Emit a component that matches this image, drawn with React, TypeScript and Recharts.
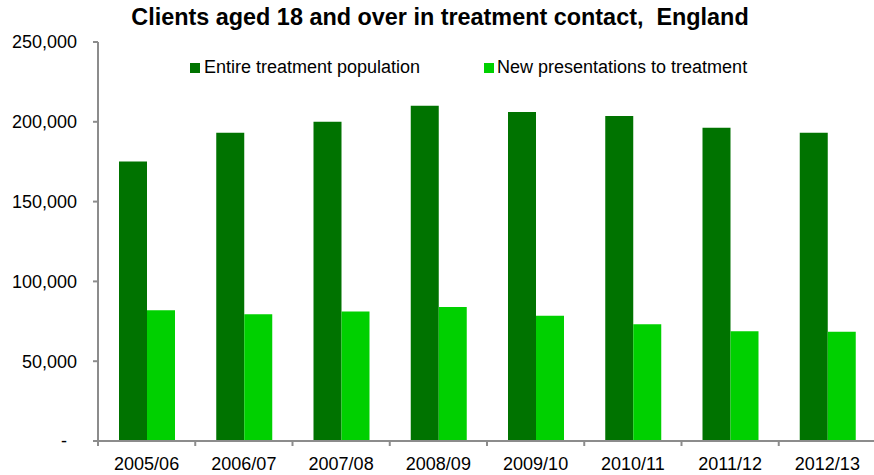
import { BarChart, Bar, XAxis, YAxis } from 'recharts';

const years = ['2005/06', '2006/07', '2007/08', '2008/09', '2009/10', '2010/11', '2011/12', '2012/13'];
const entirePopulation = [175200, 193100, 200000, 210000, 206100, 203700, 196300, 193100];
const newPresentations = [81900, 79400, 81200, 83900, 78500, 73100, 68700, 68400];
const yTicks = [0, 50000, 100000, 150000, 200000, 250000];
const seriesNames = ['Entire treatment population', 'New presentations to treatment'];
const seriesColors = ['#007300', '#00d000'];

const data = years.map((year, i) => ({
  year,
  entire: entirePopulation[i],
  fresh: newPresentations[i],
}));

const CHART_W = 880;
const LEFT = 98;
const RIGHT_MARGIN = 4;
const AXIS_COLOR = '#8c8c8c';
const FONT = '"Liberation Sans", Arial, sans-serif';

function formatY(v: number): string {
  if (v === 0) return '-\u00a0\u00a0';
  return v.toLocaleString('en-US');
}

interface TickProps {
  x?: number;
  y?: number;
  payload?: { value: string };
}

function CategoryTick({ x = 0, y = 0, payload }: TickProps) {
  const band = (CHART_W - LEFT - RIGHT_MARGIN) / years.length;
  const axisY = y - 16;
  return (
    <g>
      <line x1={x - band / 2} x2={x - band / 2} y1={axisY} y2={axisY + 5} stroke={AXIS_COLOR} strokeWidth={2} />
      <text x={x} y={y} dy="0.71em" textAnchor="middle" fontSize={18} fill="#000" fontFamily={FONT}>
        {payload?.value}
      </text>
    </g>
  );
}

export default function App() {
  return (
    <div
      style={{
        position: 'absolute',
        left: 0,
        top: 0,
        width: 874,
        height: 475,
        overflow: 'hidden',
        background: '#fff',
        fontFamily: FONT,
      }}
    >
      <div
        style={{
          position: 'absolute',
          top: 4,
          left: 0,
          width: 880,
          textAlign: 'center',
          fontWeight: 'bold',
          fontSize: 23.4,
          whiteSpace: 'pre',
        }}
      >
        {'Clients aged 18 and over in treatment contact,  England'}
      </div>
      <div style={{ position: 'absolute', top: 57, left: 190, fontSize: 18, display: 'flex', alignItems: 'center' }}>
        <span style={{ width: 10, height: 10, background: seriesColors[0], marginRight: 4 }} />
        <span>{seriesNames[0]}</span>
      </div>
      <div style={{ position: 'absolute', top: 57, left: 484, fontSize: 18, display: 'flex', alignItems: 'center' }}>
        <span style={{ width: 10, height: 10, background: seriesColors[1], marginRight: 3 }} />
        <span>{seriesNames[1]}</span>
      </div>
      <BarChart
        width={CHART_W}
        height={475}
        data={data}
        margin={{ top: 42, right: RIGHT_MARGIN, bottom: 0, left: 0 }}
        barGap={0}
        barSize={28}
      >
        <XAxis
          dataKey="year"
          height={34}
          tickLine={false}
          tickSize={6}
          tickMargin={10}
          axisLine={{ stroke: AXIS_COLOR, strokeWidth: 2 }}
          tick={<CategoryTick />}
          interval={0}
        />
        <YAxis
          width={LEFT}
          domain={[0, 250000]}
          ticks={yTicks}
          tickFormatter={formatY}
          tickSize={5}
          tickMargin={16}
          axisLine={{ stroke: AXIS_COLOR, strokeWidth: 2 }}
          tickLine={{ stroke: AXIS_COLOR, strokeWidth: 2 }}
          tick={{ fontSize: 18, fill: '#000', fontFamily: FONT }}
        />
        <Bar dataKey="entire" fill={seriesColors[0]} isAnimationActive={false} />
        <Bar dataKey="fresh" fill={seriesColors[1]} isAnimationActive={false} />
      </BarChart>
    </div>
  );
}
